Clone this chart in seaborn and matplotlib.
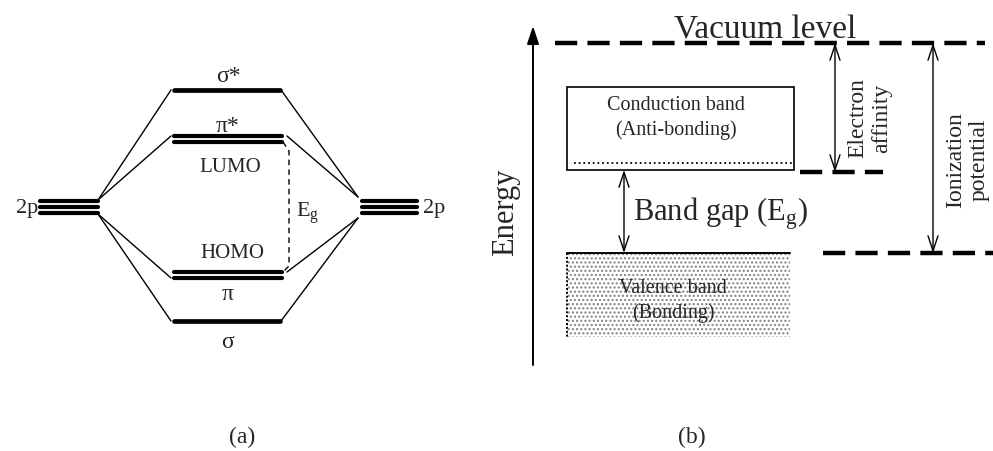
import numpy as np
import pandas as pd
import matplotlib.pyplot as plt
import seaborn as sns
from matplotlib.patches import Rectangle

# ---- panel (a): molecular orbital levels (screen y, smaller = higher energy)
orbital_labels = ['σ*', 'π*', 'π', 'σ']
orbital_energy = [90, 139, 275, 321]
orbital_degeneracy = [1, 2, 2, 1]
atomic_label = '2p'
atomic_energy = 207
atomic_degeneracy = 3
frontier_labels = ['LUMO', 'HOMO']
gap_label = r'E$_{\mathrm{g}}$'

# ---- panel (b): band picture
vacuum_level = 43
conduction_band = (87, 170)   # top, bottom
valence_band = (253, 337)
band_texts = ['Conduction band\n(Anti-bonding)', 'Valence band\n(Bonding)']
arrow_labels = ['Electron\naffinity', 'Ionization\npotential', 'Band gap (E$_{\\mathrm{g}}$)']
panel_labels = ['(a)', '(b)']

sns.set_theme(style='white')
plt.rcParams['font.family'] = ['Liberation Serif', 'DejaVu Serif']
plt.rcParams['mathtext.fontset'] = 'custom'
plt.rcParams['mathtext.rm'] = 'Liberation Serif'
plt.rcParams['mathtext.it'] = 'Liberation Serif:italic'
plt.rcParams['hatch.linewidth'] = 1.0

fig = plt.figure(figsize=(9.93, 4.51), dpi=100)
ax = fig.add_axes([0, 0, 1, 1])


def level(x0, x1, y, n, lw, sep):
    offs = (np.arange(n) - (n - 1) / 2) * sep
    for o in offs:
        ax.plot([x0, x1], [y + o, y + o], color='black', lw=lw, solid_capstyle='round')


# atomic levels
for x0, x1 in [(40, 98), (362, 417)]:
    level(x0, x1, atomic_energy, atomic_degeneracy, 3.0, 6)
ax.text(38, atomic_energy + 1, atomic_label, fontsize=16, ha='right', va='center')
ax.text(423, atomic_energy + 1, atomic_label, fontsize=16, ha='left', va='center')

# molecular levels
for lab, y, n in zip(orbital_labels, orbital_energy, orbital_degeneracy):
    x1 = 280 if n == 1 else 282
    level(174, x1, y, n, 3.4 if n == 1 else 3.0, 6)
label_y = [77, 127, 295, 342]
for lab, y in zip(orbital_labels, label_y):
    ax.text(228, y, lab, fontsize=17, ha='center', va='center')
ax.text(230, 168, frontier_labels[0], fontsize=15, ha='center', va='center')
ax.text(232, 254, frontier_labels[1], fontsize=15, ha='center', va='center')

# correlation lines
rows = []
left_top, left_bot = atomic_energy - 7, atomic_energy + 7
for i, (y, n) in enumerate(zip(orbital_energy, orbital_degeneracy)):
    yl = y - 3 if n == 2 and y < atomic_energy else (y + 3 if n == 2 else y)
    ya = left_top if y < atomic_energy else left_bot
    rows += [dict(bond=f'L{i}', x=98, y=ya), dict(bond=f'L{i}', x=171, y=yl)]
    yr = y - 3 if n == 2 and y < atomic_energy else (y - 3 if n == 2 else y)
    xr = 281 if n == 1 else 287
    ya = atomic_energy - 10 if y < atomic_energy else atomic_energy + 11
    rows += [dict(bond=f'R{i}', x=xr, y=yr), dict(bond=f'R{i}', x=358, y=ya)]
links = pd.DataFrame(rows)
sns.lineplot(data=links, x='x', y='y', units='bond', estimator=None, sort=False,
             color='black', lw=1.0, ax=ax, legend=False)

# band gap dashed bracket
ax.plot([283, 289, 289, 283], [orbital_energy[1] + 3, orbital_energy[1] + 12,
                                 orbital_energy[2] - 9, orbital_energy[2] - 3],
        color='black', lw=1.0, ls=(0, (4, 3)))
ax.text(296, 213, gap_label, fontsize=16, ha='left', va='center')

# ---- panel (b)
dash = (0, (5.0, 2.3))
ax.annotate('', xy=(533, 26), xytext=(533, 365),
            arrowprops=dict(arrowstyle='-|>,head_length=0.9,head_width=0.3',
                            color='black', lw=1.4, shrinkA=0, shrinkB=0))
ax.text(506, 212, 'Energy', fontsize=22, rotation=90, ha='center', va='center')

ax.plot([555, 985], [vacuum_level, vacuum_level], color='black', lw=3.2, ls=dash)
ax.text(765, 30, 'Vacuum level', fontsize=24, ha='center', va='center')

cb_top, cb_bot = conduction_band
ax.add_patch(Rectangle((567, cb_top), 227, cb_bot - cb_top, fill=False,
                       edgecolor='black', lw=1.2))
ax.plot([574, 793], [cb_bot - 7, cb_bot - 7], color='black', lw=1.3, ls=(0, (1, 1.6)))
ax.text(676, 118, band_texts[0], fontsize=14.5, ha='center', va='center',
        linespacing=1.35)
ax.plot([800, 883], [cb_bot + 2, cb_bot + 2], color='black', lw=3.2, ls=dash)

vb_top, vb_bot = valence_band
ax.add_patch(Rectangle((567, vb_top), 223, vb_bot - vb_top, facecolor='white',
                       edgecolor='#808080', hatch='....', lw=0))
ax.plot([567, 790], [vb_top, vb_top], color='black', lw=1.4)
ax.plot([567, 567], [vb_top, vb_bot], color='black', lw=1.4, ls=(0, (1, 1)))
ax.text(673, 301, band_texts[1], fontsize=14.5, ha='center', va='center',
        linespacing=1.35)
ax.plot([823, 993], [vb_top, vb_top], color='black', lw=3.2, ls=dash)

arrow = dict(arrowstyle='<->,head_length=0.9,head_width=0.3', color='black',
             lw=1.0, shrinkA=0, shrinkB=0)
ax.annotate('', xy=(835, vacuum_level), xytext=(835, cb_bot + 2), arrowprops=arrow)
ax.annotate('', xy=(933, vacuum_level), xytext=(933, vb_top), arrowprops=arrow)
ax.annotate('', xy=(624, cb_bot), xytext=(624, vb_top), arrowprops=arrow)
ax.text(870, 118, arrow_labels[0], fontsize=17, rotation=90, ha='center',
        va='center', linespacing=1.15)
ax.text(967, 160, arrow_labels[1], fontsize=17, rotation=90, ha='center',
        va='center', linespacing=1.15)
ax.text(633, 214, arrow_labels[2], fontsize=22, ha='left', va='center')

ax.text(242, 437, panel_labels[0], fontsize=17, ha='center', va='center')
ax.text(692, 437, panel_labels[1], fontsize=17, ha='center', va='center')

ax.set_xlim(0, 993)
ax.set_ylim(451, 0)
ax.axis('off')
fig.savefig('out.png', dpi=100)
